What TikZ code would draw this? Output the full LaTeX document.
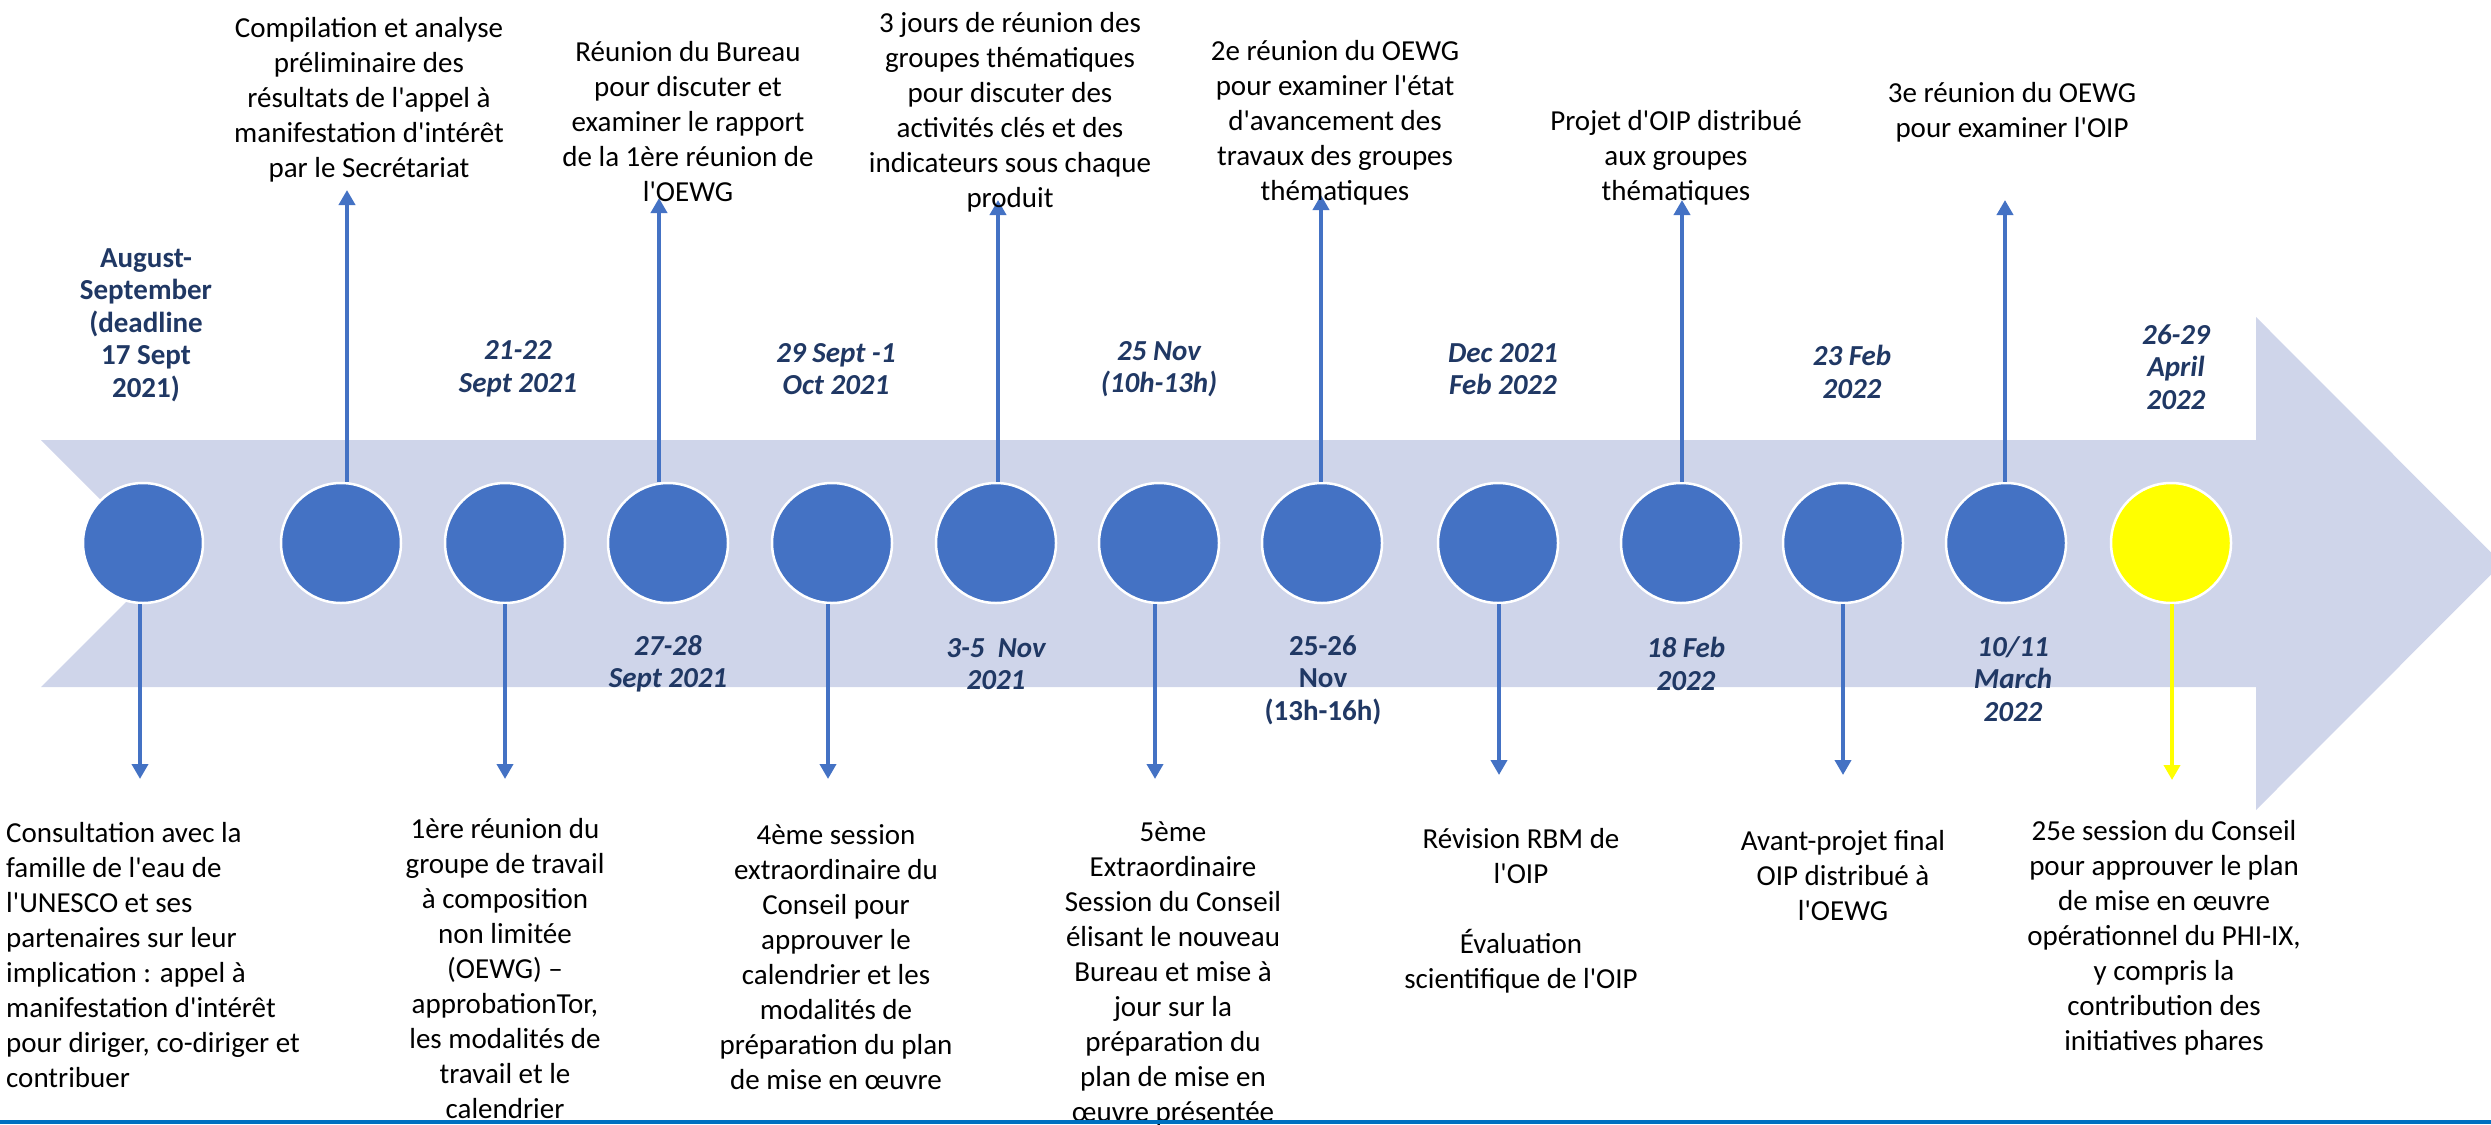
\documentclass[tikz,border=0pt]{standalone}
\usepackage{fontspec}
\setmainfont{Carlito}
\usetikzlibrary{arrows.meta}
\newcommand\qt{\textquotesingle}
\definecolor{obl}{HTML}{4472C4}
\definecolor{band}{HTML}{CFD5EA}
\definecolor{navy}{HTML}{203864}
\definecolor{yel}{HTML}{FFFF00}
\definecolor{bline}{HTML}{0070C0}
\tikzset{
  desc/.style={inner sep=0pt, align=center, font=\fontsize{29}{35}\selectfont, text=black},
  datei/.style={inner sep=0pt, align=center, font=\fontsize{29}{32.5}\selectfont\bfseries\itshape, text=navy},
  dateu/.style={inner sep=0pt, align=center, font=\fontsize{29}{32.5}\selectfont\bfseries, text=navy},
  dot/.style={circle, minimum size=120pt, inner sep=0pt, fill=obl, draw=white, line width=2.5pt},
  conn/.style={draw=obl, line width=4pt, -{Triangle[width=16pt,length=15pt]}},
}
\begin{document}
\begin{tikzpicture}[x=1pt,y=-1pt]
\useasboundingbox (0,0) rectangle (2491,1124);
\clip (0,0) rectangle (2491,1124);
% band arrow
\fill[band] (41,440) -- (2256,440) -- (2256,317) -- (2502,563.5) -- (2256,810) -- (2256,687) -- (41,687) -- (164.5,563.5) -- cycle;

% circles
\node[dot] (c1) at (143,543) {};
\node[dot] (c2) at (341,543) {};
\node[dot] (c3) at (505,543) {};
\node[dot] (c4) at (668,543) {};
\node[dot] (c5) at (832,543) {};
\node[dot] (c6) at (996,543) {};
\node[dot] (c7) at (1159,543) {};
\node[dot] (c8) at (1322,543) {};
\node[dot] (c9) at (1498,543) {};
\node[dot] (c10) at (1681,543) {};
\node[dot] (c11) at (1843,543) {};
\node[dot] (c12) at (2006,543) {};
\node[dot, fill=yel] (c13) at (2171,543) {};

% arrow tip coordinates
\coordinate (u2) at (347,190);
\coordinate (u4) at (659,198);
\coordinate (u6) at (998,200);
\coordinate (u8) at (1321,195);
\coordinate (u10) at (1682,200);
\coordinate (u12) at (2005,200);
\coordinate (d1) at (140,779);
\coordinate (d3) at (505,779);
\coordinate (d5) at (828,779);
\coordinate (d7) at (1155,779);
\coordinate (d9) at (1499,775);
\coordinate (d11) at (1843,775);
\coordinate (d13) at (2172,780);

\draw[conn] (u2 |- c2.north) -- (u2);
\draw[conn] (u4 |- c4.north) -- (u4);
\draw[conn] (u6 |- c6.north) -- (u6);
\draw[conn] (u8 |- c8.north) -- (u8);
\draw[conn] (u10 |- c10.north) -- (u10);
\draw[conn] (u12 |- c12.north) -- (u12);
\draw[conn] (d1 |- c1.south) -- (d1);
\draw[conn] (d3 |- c3.south) -- (d3);
\draw[conn] (d5 |- c5.south) -- (d5);
\draw[conn] (d7 |- c7.south) -- (d7);
\draw[conn] (d9 |- c9.south) -- (d9);
\draw[conn] (d11 |- c11.south) -- (d11);
\draw[conn, draw=yel] (d13 |- c13.south) -- (d13);

% top texts
\node[desc] (t2) at (369,100) {Compilation et analyse\\préliminaire des\\résultats de l\qt appel à\\manifestation d\qt intérêt\\par le Secrétariat};
\node[desc] (t4) at (688,122) {Réunion du Bureau\\pour discuter et\\examiner le rapport\\de la 1ère réunion de\\l\qt OEWG};
\node[desc] (t6) at (1010,112) {3 jours de réunion des\\groupes thématiques\\pour discuter des\\activités clés et des\\indicateurs sous chaque\\produit};
\node[desc] (t8) at (1335,123) {2e réunion du OEWG\\pour examiner l\qt état\\d\qt avancement des\\travaux des groupes\\thématiques};
\node[desc] (t10) at (1676,158) {Projet d\qt OIP distribué\\aux groupes\\thématiques};
\node[desc] (t12) at (2012,112) {3e réunion du OEWG\\pour examiner l\qt OIP};

% dates above band
\node[dateu] (a1) at (146,325) {August-\\September\\(deadline\\17 Sept\\2021)};
\node[datei] (a3) at (518,369) {21-22\\Sept 2021};
\node[datei] (a5) at (836,369) {29 Sept -1\\Oct 2021};
\node[datei] (a7) at (1159,369) {25 Nov\\(10h-13h)};
\node[datei] (a9) at (1503,369) {Dec 2021\\Feb 2022};
\node[datei] (a11) at (1852,372) {23 Feb\\2022};
\node[datei] (a13) at (2176,367) {26-29\\April\\2022};

% dates below band
\node[datei] (b4) at (668,664) {27-28\\Sept 2021};
\node[datei] (b6) at (996,664) {3-5\ \ Nov\\2021};
\node[dateu] (b8) at (1323,680) {25-26\\Nov\\(13h-16h)};
\node[datei] (b10) at (1686,664) {18 Feb\\2022};
\node[datei] (b12) at (2013,679) {10/11\\March\\2022};

% bottom texts
\node[desc, align=left, anchor=west] (s1) at (6,955) {Consultation avec la\\famille de l\qt eau de\\l\qt UNESCO et ses\\partenaires sur leur\\implication : appel à\\manifestation d\qt intérêt\\pour diriger, co-diriger et\\contribuer};
\node[desc] (s3) at (505,969) {1ère réunion du\\groupe de travail\\à composition\\non limitée\\(OEWG) –\\approbationTor,\\les modalités de\\travail et le\\calendrier};
\node[desc] (s5) at (836,957) {4ème session\\extraordinaire du\\Conseil pour\\approuver le\\calendrier et les\\modalités de\\préparation du plan\\de mise en œuvre};
\node[desc] (s7) at (1173,974) {5ème\\Extraordinaire\\Session du Conseil\\élisant le nouveau\\Bureau et mise à\\jour sur la\\préparation du\\plan de mise en\\œuvre présentée};
\node[desc] (s9) at (1521,911) {Révision RBM de\\l\qt OIP\\\mbox{}\\Évaluation\\scientifique de l\qt OIP};
\node[desc] (s11) at (1843,876) {Avant-projet final\\OIP distribué à\\l\qt OEWG};
\node[desc] (s13) at (2164,938) {25e session du Conseil\\pour approuver le plan\\de mise en œuvre\\opérationnel du PHI-IX,\\y compris la\\contribution des\\initiatives phares};

% bottom rule
\fill[bline] (0,1120) rectangle (2491,1124);
\end{tikzpicture}
\end{document}
